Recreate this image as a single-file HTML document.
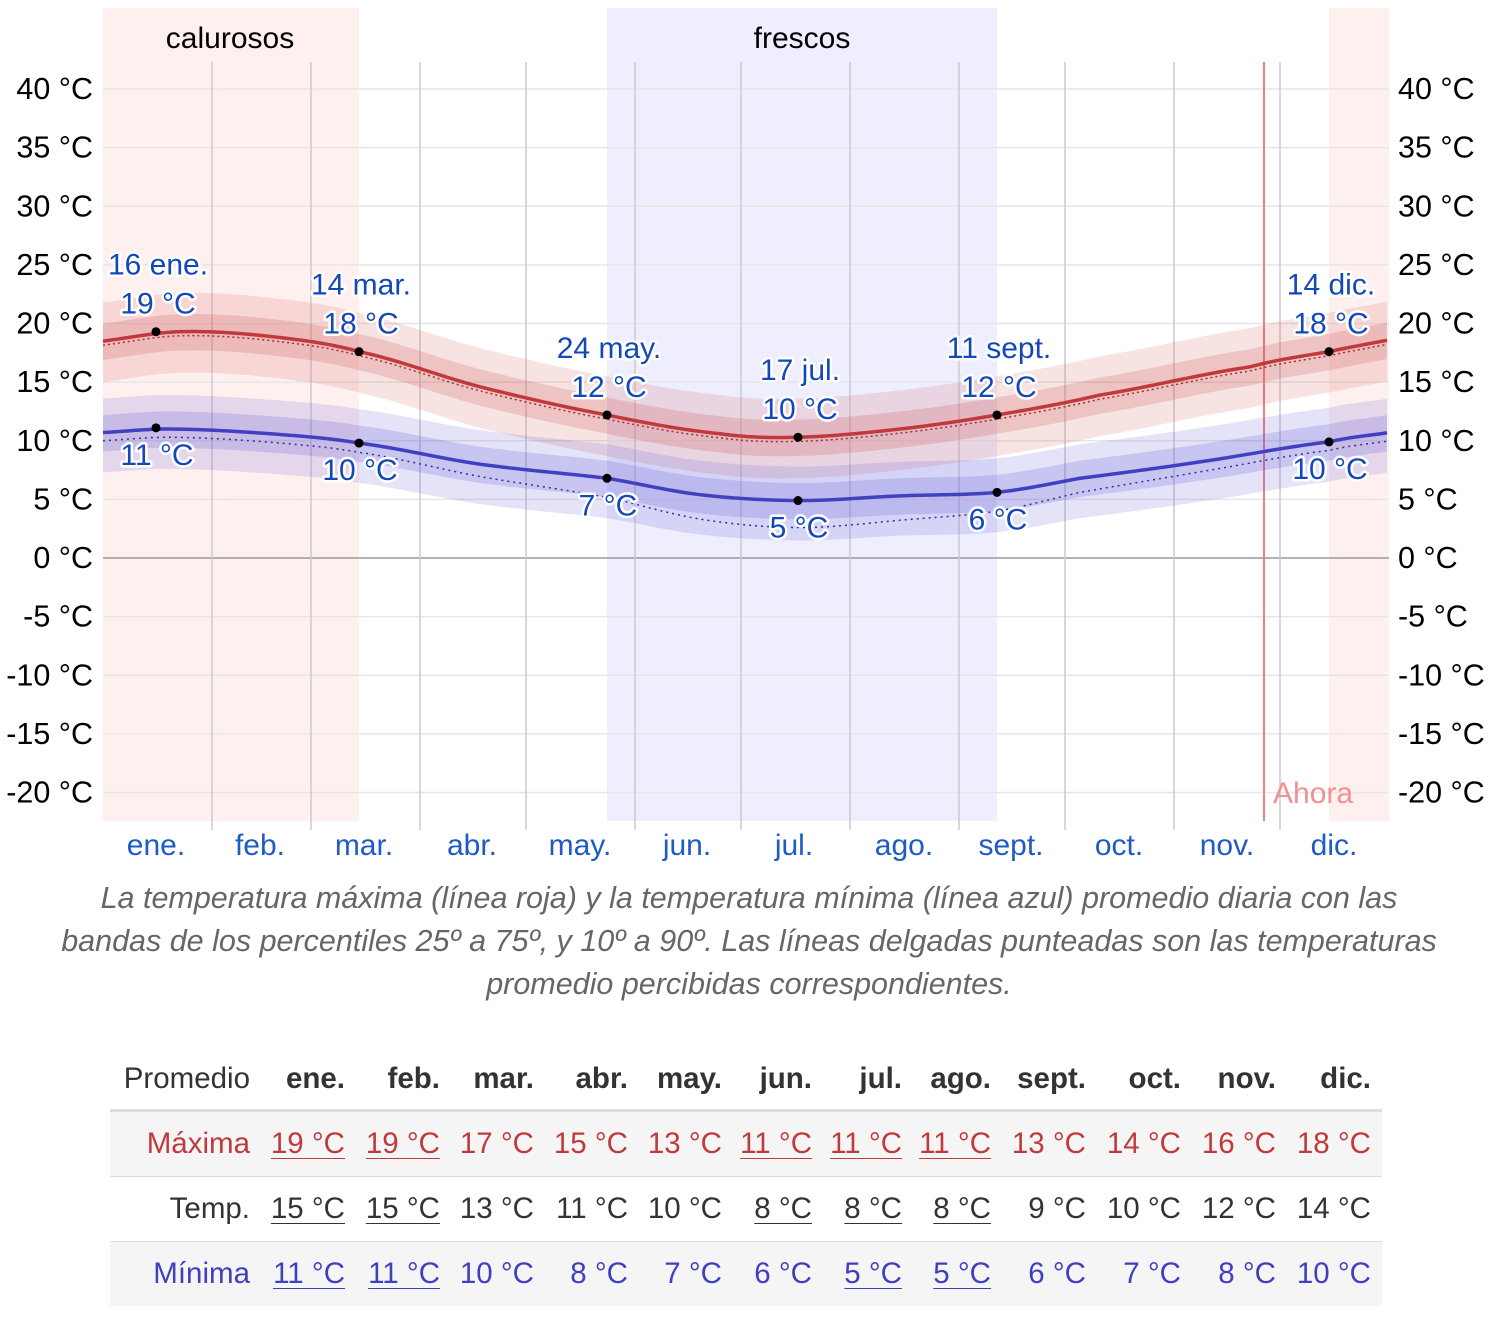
<!DOCTYPE html>
<html><head><meta charset="utf-8"><style>
body{margin:0;background:#fff;width:1498px;height:1336px;overflow:hidden;font-family:"Liberation Sans",sans-serif;}
svg text{font-family:"Liberation Sans",sans-serif;}
.cap{position:absolute;left:0;top:877px;width:1498px;text-align:center;font-style:italic;color:#666;font-size:30.5px;line-height:43px;}
table{position:absolute;left:110px;top:1049px;border-collapse:collapse;font-size:29.5px;}
td,th{text-align:right;padding:0;height:64px;}
th{height:60px;font-weight:bold;color:#333;}
.hd th{border-bottom:3px solid #ddd;}
.g{background:#f5f5f5;}
.r{color:#c0393b}.b{color:#3f3fc0}.k{color:#333}
u{text-decoration-thickness:1px;text-underline-offset:5px;}
</style></head><body>
<svg id="s" width="1498" height="870" style="position:absolute;left:0;top:0"></svg>
<div class="cap">La temperatura máxima (línea roja) y la temperatura mínima (línea azul) promedio diaria con las<br>bandas de los percentiles 25º a 75º, y 10º a 90º. Las líneas delgadas punteadas son las temperaturas<br>promedio percibidas correspondientes.</div>
<table>
<tr class="hd"><th style="width:140px;font-weight:normal;color:#333">Promedio</th><th style="width:95px">ene.</th><th style="width:95px">feb.</th><th style="width:94px">mar.</th><th style="width:94px">abr.</th><th style="width:94px">may.</th><th style="width:90px">jun.</th><th style="width:90px">jul.</th><th style="width:89px">ago.</th><th style="width:95px">sept.</th><th style="width:95px">oct.</th><th style="width:95px">nov.</th><th style="width:95px">dic.</th><th style="width:11px"></th></tr>
<tr class="g r"><td>Máxima</td><td><u>19 °C</u></td><td><u>19 °C</u></td><td>17 °C</td><td>15 °C</td><td>13 °C</td><td><u>11 °C</u></td><td><u>11 °C</u></td><td><u>11 °C</u></td><td>13 °C</td><td>14 °C</td><td>16 °C</td><td>18 °C</td><td></td></tr>
<tr class="k" style="border-top:1px solid #ddd;border-bottom:1px solid #ddd"><td>Temp.</td><td><u>15 °C</u></td><td><u>15 °C</u></td><td>13 °C</td><td>11 °C</td><td>10 °C</td><td><u>8 °C</u></td><td><u>8 °C</u></td><td><u>8 °C</u></td><td>9 °C</td><td>10 °C</td><td>12 °C</td><td>14 °C</td><td></td></tr>
<tr class="g b"><td>Mínima</td><td><u>11 °C</u></td><td><u>11 °C</u></td><td>10 °C</td><td>8 °C</td><td>7 °C</td><td>6 °C</td><td><u>5 °C</u></td><td><u>5 °C</u></td><td>6 °C</td><td>7 °C</td><td>8 °C</td><td>10 °C</td><td></td></tr>
</table>
<script>
const Y=v=>558-v*11.725;
let h='';
h+='<rect x="103" y="8" width="256" height="813" fill="#fff0f0"/>';
h+='<rect x="607" y="8" width="390" height="813" fill="#eeeefe"/>';
h+='<rect x="1329" y="8" width="60" height="813" fill="#fff0f0"/>';
for(let v=-20;v<=40;v+=5){let y=Y(v);h+=`<line x1="103" x2="1389" y1="${y}" y2="${y}" stroke="${v==0?'#999':'#e6e6e6'}" stroke-width="1.5"/>`;
h+=`<text x="93" y="${y+10}" font-size="30.5" text-anchor="end">${v} °C</text><text x="1398" y="${y+10}" font-size="30.5">${v} °C</text>`;}
[212,311,420,526,635,741,850,959,1065,1174,1280].forEach(x=>h+=`<line x1="${x}" x2="${x}" y1="62" y2="830" stroke="#ccc" stroke-width="1.5"/>`);
h+='<line x1="1264" x2="1264" y1="62" y2="821" stroke="#f08080" stroke-width="2"/>';
h+='<text x="1273" y="803" font-size="30" fill="#f09090">Ahora</text>';
h+='<text x="230" y="48" font-size="30" text-anchor="middle">calurosos</text><text x="802" y="48" font-size="30" text-anchor="middle">frescos</text>';
[['ene.',156],['feb.',260],['mar.',364],['abr.',472],['may.',580],['jun.',687],['jul.',794],['ago.',904],['sept.',1011],['oct.',1119],['nov.',1227],['dic.',1334]].forEach(m=>h+=`<text x="${m[1]}" y="855" font-size="30" fill="#1f5bc4" text-anchor="middle">${m[0]}</text>`);
function interp(pts){let P=[[pts[0][0]-60,2*pts[0][1]-pts[1][1]],...pts,[pts[pts.length-1][0]+60,2*pts[pts.length-1][1]-pts[pts.length-2][1]]];let out=[];
for(let x=103;x<=1389;x+=3){let i=1;while(i<P.length-3&&x>P[i+1][0])i++;let p0=P[i-1][1],p1=P[i][1],p2=P[i+1][1],p3=P[i+2][1];let t=(x-P[i][0])/(P[i+1][0]-P[i][0]);
let v=0.5*((2*p1)+(-p0+p2)*t+(2*p0-5*p1+4*p2-p3)*t*t+(-p0+3*p1-3*p2+p3)*t*t*t);out.push([x,v]);}return out;}
const mx=[[103,18.5],[180,19.3],[270,18.9],[359,17.6],[480,14.6],[607,12.2],[720,10.6],[798,10.3],[900,11],[997,12.2],[1100,13.9],[1250,16.3],[1329,17.6],[1389,18.6]];
const mn=[[103,10.7],[170,11],[270,10.6],[359,9.8],[480,8],[607,6.8],[700,5.4],[798,4.9],[900,5.3],[997,5.6],[1080,6.8],[1200,8.2],[1329,9.9],[1389,10.7]];
function band(pts,lo,hi,fill){let a=interp(pts);let d='M'+a.map(p=>p[0]+','+Y(p[1]+hi)).join('L')+'L'+a.slice().reverse().map(p=>p[0]+','+Y(p[1]-lo)).join('L')+'Z';return `<path d="${d}" fill="${fill}"/>`;}
function line(pts,off,st){let a=interp(pts);return `<path d="M${a.map(p=>p[0]+','+Y(p[1]-off(p[0]))).join('L')}" fill="none" ${st}/>`;}
h+=band(mx,3.5,3.3,'rgba(210,80,80,0.16)')+band(mx,1.6,1.5,'rgba(200,70,70,0.2)');
h+=band(mn,3.4,2.9,'rgba(90,80,210,0.16)')+band(mn,1.6,1.5,'rgba(90,80,210,0.2)');
h+=line(mx,x=>0.35,'stroke="#a03030" stroke-width="1.5" stroke-dasharray="2,3"');
h+=line(mx,x=>0,'stroke="#c0393b" stroke-width="3.5"');
h+=line(mn,x=>{let c=Math.exp(-Math.pow((x-800)/260,2));return 0.7+1.6*c;},'stroke="#3030a0" stroke-width="1.5" stroke-dasharray="2,4"');
h+=line(mn,x=>0,'stroke="#4040c0" stroke-width="3.5"');
const lab=(x,y,t)=>`<text x="${x}" y="${y}" font-size="30" fill="#1248b8" text-anchor="middle" stroke="#fff" stroke-width="5" paint-order="stroke" stroke-linejoin="round">${t}</text>`;
[[156,19.3,'16 ene.','19 °C',11.1,'11 °C'],[359,17.6,'14 mar.','18 °C',9.8,'10 °C'],[607,12.2,'24 may.','12 °C',6.8,'7 °C'],[798,10.3,'17 jul.','10 °C',4.9,'5 °C'],[997,12.2,'11 sept.','12 °C',5.6,'6 °C'],[1329,17.6,'14 dic.','18 °C',9.9,'10 °C']].forEach(a=>{
let y=Y(a[1]);h+=lab(a[0]+2,y-57,a[2])+lab(a[0]+2,y-18,a[3])+`<circle cx="${a[0]}" cy="${y}" r="4.5"/>`;
let y2=Y(a[4]);h+=lab(a[0]+1,y2+37,a[5])+`<circle cx="${a[0]}" cy="${y2}" r="4.5"/>`;});
document.getElementById('s').innerHTML=h;
</script>
</body></html>
